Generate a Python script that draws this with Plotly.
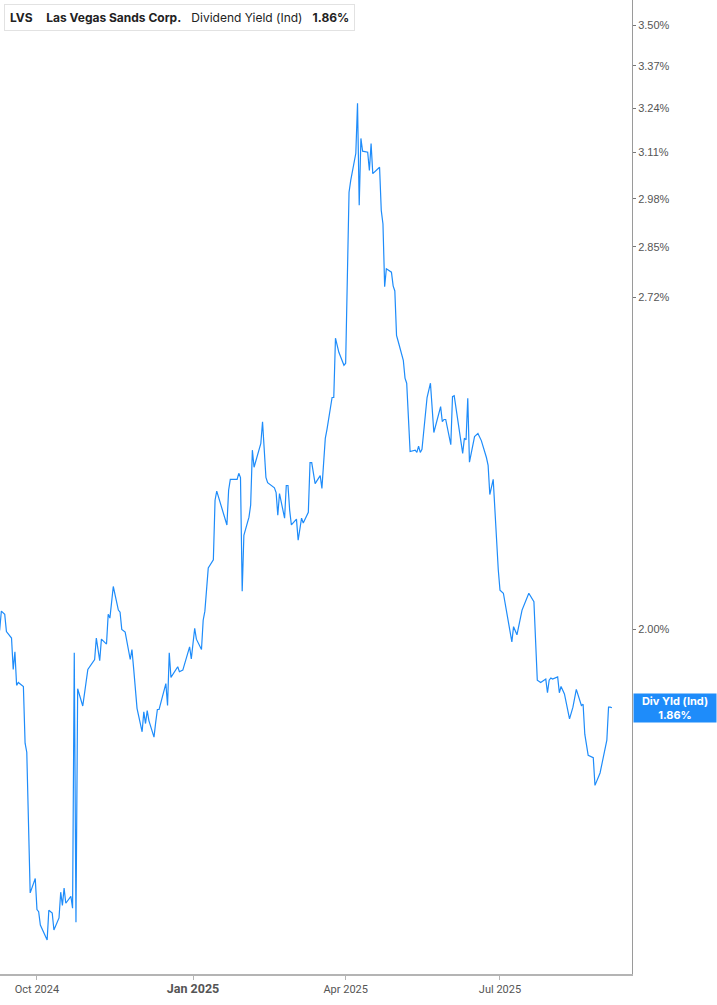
import math
import plotly.graph_objects as go

# LVS dividend yield (indicated)
dates = [
    "2024-09-09", "2024-09-10", "2024-09-12", "2024-09-13", "2024-09-16", "2024-09-17",
    "2024-09-18", "2024-09-19", "2024-09-20", "2024-09-23", "2024-09-24", "2024-09-25",
    "2024-09-27", "2024-09-30", "2024-10-01", "2024-10-02", "2024-10-03", "2024-10-07",
    "2024-10-08", "2024-10-10", "2024-10-11", "2024-10-14", "2024-10-15", "2024-10-16",
    "2024-10-17", "2024-10-18", "2024-10-21", "2024-10-22", "2024-10-23", "2024-10-24",
    "2024-10-25", "2024-10-28", "2024-10-29", "2024-10-31", "2024-11-04", "2024-11-05",
    "2024-11-07", "2024-11-08", "2024-11-11", "2024-11-12", "2024-11-13", "2024-11-15",
    "2024-11-18", "2024-11-19", "2024-11-20", "2024-11-22", "2024-11-25", "2024-11-26",
    "2024-11-27", "2024-11-29", "2024-12-02", "2024-12-03", "2024-12-04", "2024-12-05",
    "2024-12-06", "2024-12-09", "2024-12-10", "2024-12-11", "2024-12-12", "2024-12-16",
    "2024-12-17", "2024-12-18", "2024-12-19", "2024-12-23", "2024-12-24", "2024-12-26",
    "2024-12-30", "2024-12-31", "2025-01-02", "2025-01-03", "2025-01-06", "2025-01-07",
    "2025-01-08", "2025-01-10", "2025-01-13", "2025-01-14", "2025-01-15", "2025-01-17",
    "2025-01-21", "2025-01-22", "2025-01-23", "2025-01-27", "2025-01-28", "2025-01-29",
    "2025-01-30", "2025-01-31", "2025-02-03", "2025-02-04", "2025-02-05", "2025-02-06",
    "2025-02-10", "2025-02-11", "2025-02-12", "2025-02-13", "2025-02-14", "2025-02-18",
    "2025-02-19", "2025-02-20", "2025-02-21", "2025-02-24", "2025-02-25", "2025-02-26",
    "2025-02-27", "2025-02-28", "2025-03-03", "2025-03-04", "2025-03-06", "2025-03-07",
    "2025-03-10", "2025-03-11", "2025-03-12", "2025-03-13", "2025-03-14", "2025-03-17",
    "2025-03-18", "2025-03-20", "2025-03-21", "2025-03-24", "2025-03-25", "2025-03-26",
    "2025-03-28", "2025-03-31", "2025-04-01", "2025-04-03", "2025-04-04", "2025-04-07",
    "2025-04-08", "2025-04-09", "2025-04-10", "2025-04-11", "2025-04-14", "2025-04-15",
    "2025-04-16", "2025-04-17", "2025-04-21", "2025-04-22", "2025-04-23", "2025-04-24",
    "2025-04-25", "2025-04-28", "2025-04-29", "2025-04-30", "2025-05-01", "2025-05-02",
    "2025-05-05", "2025-05-06", "2025-05-07", "2025-05-09", "2025-05-12", "2025-05-13",
    "2025-05-14", "2025-05-15", "2025-05-16", "2025-05-19", "2025-05-21", "2025-05-23",
    "2025-05-27", "2025-05-28", "2025-05-29", "2025-05-30", "2025-06-02", "2025-06-03",
    "2025-06-04", "2025-06-09", "2025-06-10", "2025-06-11", "2025-06-12", "2025-06-13",
    "2025-06-16", "2025-06-18", "2025-06-20", "2025-06-23", "2025-06-24", "2025-06-25",
    "2025-06-27", "2025-06-30", "2025-07-01", "2025-07-03", "2025-07-08", "2025-07-09",
    "2025-07-11", "2025-07-14", "2025-07-16", "2025-07-18", "2025-07-21", "2025-07-23",
    "2025-07-25", "2025-07-28", "2025-07-29", "2025-07-30", "2025-07-31", "2025-08-01",
    "2025-08-04", "2025-08-05", "2025-08-06", "2025-08-08", "2025-08-11", "2025-08-13",
    "2025-08-15", "2025-08-18", "2025-08-19", "2025-08-20", "2025-08-22", "2025-08-25",
    "2025-08-26", "2025-08-29", "2025-09-02", "2025-09-03", "2025-09-04", "2025-09-05",
]

div_yield = [
    1.998, 2.034, 2.028, 1.996, 1.984, 1.927,
    1.959, 1.899, 1.904, 1.897, 1.800, 1.785,
    1.567, 1.588, 1.543, 1.540, 1.521, 1.500,
    1.542, 1.538, 1.514, 1.531, 1.568, 1.549,
    1.574, 1.552, 1.562, 1.545, 1.957, 1.525,
    1.893, 1.863, 1.884, 1.927, 1.945, 1.984,
    1.943, 1.982, 1.973, 2.028, 2.021, 2.081,
    2.036, 2.032, 2.000, 1.995, 1.945, 1.963,
    1.929, 1.859, 1.819, 1.853, 1.833, 1.855,
    1.838, 1.810, 1.835, 1.857, 1.857, 1.902,
    1.864, 1.957, 1.913, 1.932, 1.923, 1.926,
    1.968, 1.946, 2.002, 1.982, 1.963, 2.017,
    2.034, 2.117, 2.133, 2.254, 2.273, 2.248,
    2.203, 2.275, 2.298, 2.298, 2.311, 2.302,
    2.072, 2.182, 2.219, 2.244, 2.361, 2.324,
    2.376, 2.424, 2.371, 2.302, 2.291, 2.280,
    2.270, 2.223, 2.268, 2.217, 2.285, 2.285,
    2.233, 2.203, 2.215, 2.172, 2.217, 2.207,
    2.229, 2.334, 2.334, 2.311, 2.289, 2.306,
    2.279, 2.387, 2.407, 2.479, 2.479, 2.619,
    2.585, 2.554, 2.559, 2.998, 3.031, 3.108,
    3.255, 2.962, 3.151, 3.114, 3.111, 3.059,
    3.136, 3.050, 3.068, 2.948, 2.911, 2.747,
    2.793, 2.784, 2.749, 2.736, 2.626, 2.611,
    2.566, 2.524, 2.512, 2.358, 2.361, 2.356,
    2.370, 2.356, 2.363, 2.479, 2.512, 2.400,
    2.458, 2.424, 2.429, 2.429, 2.373, 2.481,
    2.483, 2.354, 2.387, 2.384, 2.477, 2.335,
    2.391, 2.398, 2.382, 2.345, 2.328, 2.266,
    2.298, 2.113, 2.074, 2.068, 1.977, 2.005,
    1.990, 2.036, 2.052, 2.068, 2.052, 1.908,
    1.904, 1.910, 1.886, 1.908, 1.912, 1.910,
    1.914, 1.886, 1.897, 1.884, 1.841, 1.861,
    1.892, 1.864, 1.866, 1.815, 1.780, 1.776,
    1.731, 1.751, 1.805, 1.861, 1.861, 1.860,
]

ytick_vals = [2.00, 2.72, 2.85, 2.98, 3.11, 3.24, 3.37, 3.50]
xtick_vals = ["2024-10-01", "2025-01-01", "2025-04-01", "2025-07-01"]
xtick_text = ["Oct 2024", "<span style='font-size:12.5px'><b>Jan 2025</b></span>", "Apr 2025", "Jul 2025"]
last_val = 1.86

BLUE = "#1E8CFA"

fig = go.Figure()
fig.add_trace(go.Scatter(x=dates, y=div_yield, mode="lines",
                         line=dict(color=BLUE, width=1.2), hoverinfo="skip"))

fig.update_layout(
    width=717, height=1005,
    margin=dict(l=0, r=85, t=0, b=31, pad=0),
    paper_bgcolor="white", plot_bgcolor="white",
    showlegend=False,
    font=dict(family="Roboto, Liberation Sans, sans-serif", color="#555"),
)

fig.update_xaxes(
    range=["2024-09-09 05:00", "2025-09-16 20:00"],
    tickvals=xtick_vals, ticktext=xtick_text,
    showgrid=False, zeroline=False,
    showline=True, linecolor="#b4b4b4", linewidth=2,
    ticks="outside", ticklen=4, tickcolor="#b4b4b4", tickwidth=1,
    tickfont=dict(size=11, color="#555", family="Roboto"),
)

fig.update_yaxes(
    type="log", side="right",
    range=[math.log10(1.4536), math.log10(3.582)],
    tickvals=ytick_vals, ticktext=[f"{v:.2f}%" for v in ytick_vals],
    showgrid=False, zeroline=False,
    showline=True, linecolor="#9a9a9a", linewidth=1,
    ticks="outside", ticklen=3, tickcolor="#777", tickwidth=1,
    tickfont=dict(size=11, color="#555", family="Liberation Sans"),
)

# header box, top left
fig.add_annotation(
    xref="paper", yref="paper", x=0.0065, y=0.996, xanchor="left", yanchor="top",
    text=("<b>LVS</b>&nbsp;&nbsp;&nbsp;&nbsp;<b>Las Vegas Sands Corp.</b>&nbsp;&nbsp;&nbsp;"
          "Dividend Yield (Ind)&nbsp;&nbsp;&nbsp;<b>1.86%</b>"),
    showarrow=False, align="left",
    font=dict(family="Inter", size=12, color="#222"),
    bgcolor="white", bordercolor="#e2e2e2", borderwidth=1, borderpad=5,
)
fig.add_shape(type="rect", xref="paper", yref="paper",
              x0=0.0065, x1=0.011, y0=1 - 30 / 974, y1=1 - 4 / 974,
              fillcolor=BLUE, line=dict(width=0))

# last value label on the right axis
fig.add_annotation(
    xref="paper", yref="y", x=1, y=math.log10(last_val), xanchor="left", yanchor="middle",
    text=f"<b>Div Yld (Ind)<br>{last_val:.2f}%</b>",
    showarrow=False, align="center", xshift=1,
    width=82, height=28, bgcolor=BLUE, borderpad=0,
    font=dict(family="Inter", size=11, color="white"),
)

fig.write_html("out.html", config={"displayModeBar": False},
               post_script="document.body.style.margin='0';")
